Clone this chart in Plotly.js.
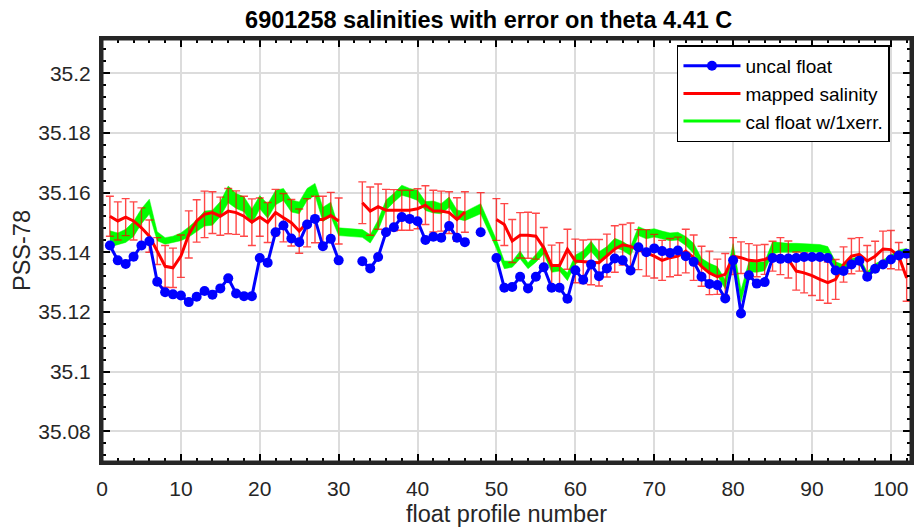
<!DOCTYPE html>
<html>
<head>
<meta charset="utf-8">
<script src="https://cdn.plot.ly/plotly-3.0.1.min.js"></script>
<style>html,body{margin:0;padding:0;background:#fff;}#chart{width:914px;height:531px;}</style>
</head>
<body>
<div id="chart"></div>
<script>
// profile numbers
const profile = [1,2,3,4,5,6,7,8,9,10,11,12,13,14,15,16,17,18,19,20,
  21,22,23,24,25,26,27,28,29,30,31,32,33,34,35,36,37,38,39,40,
  41,42,43,44,45,46,47,48,49,50,51,52,53,54,55,56,57,58,59,60,
  61,62,63,64,65,66,67,68,69,70,71,72,73,74,75,76,77,78,79,80,
  81,82,83,84,85,86,87,88,89,90,91,92,93,94,95,96,97,98,99,100,101,102];

// uncalibrated float salinity
const uncalFloat = [35.1423,35.1373,35.1361,35.1385,35.1423,35.1437,35.1301,35.1266,35.1259,35.1255,
  35.1233,35.1251,35.1270,35.1258,35.1279,35.1313,35.1262,35.1253,35.1253,35.1381,
  35.1365,35.1467,35.1490,35.1446,35.1434,35.1493,35.1512,35.1420,35.1445,35.1373,
  null,null,35.1370,35.1346,35.1384,35.1467,35.1484,35.1518,35.1512,35.1504,
  35.1441,35.1452,35.1449,35.1488,35.1449,35.1434,null,35.1467,null,35.1381,
  35.1281,35.1284,35.1318,35.1279,35.1318,35.1350,35.1281,35.1281,35.1244,35.1340,
  35.1308,35.1359,35.1320,35.1346,35.1379,35.1373,35.1339,35.1417,35.1400,35.1413,
  35.1404,35.1398,35.1406,35.1387,35.1368,35.1318,35.1294,35.1290,35.1245,35.1373,
  35.1195,35.1323,35.1295,35.1300,35.1381,35.1378,35.1379,35.1381,35.1384,35.1384,
  35.1384,35.1381,35.1339,35.1337,35.1359,35.1372,35.1318,35.1345,35.1359,35.1376,
  35.1389,35.1395];

// mapped salinity
const mappedSal = [35.1521,35.1505,35.1518,35.1505,35.1482,35.1454,35.1404,35.1353,35.1348,35.1387,
  35.1460,35.1505,35.1527,35.1533,35.1521,35.1538,35.1533,35.1521,35.1501,35.1518,
  35.1500,35.1533,35.1516,35.1499,35.1471,35.1499,35.1510,35.1510,35.1523,35.1505,
  null,null,35.1566,35.1538,35.1553,35.1541,35.1541,35.1541,35.1541,35.1546,
  35.1558,35.1538,35.1538,35.1533,35.1510,35.1535,null,35.1535,null,35.1510,
  35.1493,35.1438,35.1457,35.1457,35.1454,35.1415,35.1356,35.1356,35.1410,35.1371,
  35.1368,35.1367,35.1365,35.1389,35.1411,35.1425,35.1420,35.1409,35.1398,35.1387,
  35.1373,35.1382,35.1387,35.1404,35.1382,35.1353,35.1331,35.1318,35.1326,35.1387,
  35.1382,35.1373,35.1371,35.1376,35.1387,35.1387,35.1376,35.1337,35.1331,35.1322,
  35.1309,35.1298,35.1309,35.1359,35.1387,35.1393,35.1371,35.1387,35.1411,35.1409,
  35.1387,35.1314];

// mapped salinity error
const mappedErr = [0.0067,0.0064,0.0062,0.0064,0.0067,0.0054,0.0045,0.0070,0.0066,0.0071,
  0.0079,0.0071,0.0078,0.0070,0.0064,0.0076,0.0073,0.0067,0.0078,0.0064,
  0.0067,0.0078,0.0081,0.0078,0.0074,0.0081,0.0078,0.0078,0.0078,0.0077,
  null,null,0.0070,0.0081,0.0076,0.0070,0.0069,0.0067,0.0067,0.0067,
  0.0065,0.0070,0.0067,0.0070,0.0073,0.0068,null,0.0065,null,0.0070,
  0.0070,0.0072,0.0076,0.0077,0.0077,0.0068,0.0068,0.0076,0.0067,0.0073,
  0.0073,0.0076,0.0078,0.0072,0.0078,0.0068,0.0078,0.0067,0.0078,0.0073,
  0.0067,0.0064,0.0064,0.0073,0.0076,0.0067,0.0073,0.0059,0.0070,0.0062,
  0.0053,0.0056,0.0053,0.0050,0.0050,0.0062,0.0062,0.0064,0.0067,0.0067,
  0.0070,0.0069,0.0067,0.0059,0.0059,0.0056,0.0052,0.0050,0.0060,0.0064,
  0.0046,0.0078];

// calibrated float salinity
const calFloat = [35.1445,35.1445,35.1455,35.1478,35.1521,35.1553,35.1454,35.1438,35.1443,35.1452,
  35.1468,35.1488,35.1513,35.1516,35.1545,35.1594,35.1572,35.1561,35.1520,35.1568,
  35.1538,35.1583,35.1594,35.1555,35.1549,35.1594,35.1611,35.1527,35.1544,35.1469,
  null,null,35.1463,35.1445,35.1491,35.1558,35.1583,35.1608,35.1599,35.1591,
  35.1555,35.1552,35.1546,35.1568,35.1527,35.1521,null,35.1546,null,35.1427,
  35.1358,35.1360,35.1391,35.1355,35.1380,35.1410,35.1346,35.1346,35.1318,35.1376,
  35.1390,35.1420,35.1387,35.1404,35.1432,35.1421,35.1404,35.1471,35.1460,35.1465,
  35.1458,35.1452,35.1454,35.1438,35.1413,35.1365,35.1348,35.1337,35.1292,35.1409,
  35.1254,35.1351,35.1350,35.1353,35.1415,35.1416,35.1415,35.1416,35.1415,35.1414,
  35.1413,35.1407,35.1356,35.1346,35.1367,35.1373,35.1323,35.1350,35.1362,35.1379,
  35.1396,35.1401];

// calibrated float error
const calErr = [0.0027,0.0020,0.0022,0.0025,0.0025,0.0025,0.0015,0.0011,0.0011,0.0013,
  0.0017,0.0020,0.0025,0.0025,0.0025,0.0028,0.0025,0.0025,0.0025,0.0022,
  0.0024,0.0024,0.0020,0.0020,0.0020,0.0020,0.0020,0.0024,0.0024,0.0013,
  null,null,0.0013,0.0014,0.0017,0.0017,0.0015,0.0017,0.0015,0.0017,
  0.0015,0.0020,0.0017,0.0017,0.0015,0.0015,null,0.0017,null,0.0015,
  0.0013,0.0010,0.0013,0.0010,0.0013,0.0015,0.0013,0.0009,0.0013,0.0015,
  0.0015,0.0017,0.0015,0.0015,0.0015,0.0015,0.0015,0.0015,0.0015,0.0014,
  0.0013,0.0013,0.0013,0.0015,0.0017,0.0015,0.0015,0.0015,0.0015,0.0020,
  0.0020,0.0017,0.0017,0.0015,0.0020,0.0016,0.0015,0.0014,0.0013,0.0013,
  0.0013,0.0012,0.0012,0.0012,0.0012,0.0012,0.0012,0.0012,0.0012,0.0012,
  0.0012,0.0012];

const yTicks = [35.08, 35.1, 35.12, 35.14, 35.16, 35.18, 35.2];
const yTickText = ['35.08', '35.1', '35.12', '35.14', '35.16', '35.18', '35.2'];
const xTicks = [0, 10, 20, 30, 40, 50, 60, 70, 80, 90, 100];

// build the band from the available calibrated points
const bandX = [], bandLo = [], bandHi = [];
profile.forEach((p, i) => {
  if (calFloat[i] !== null) {
    bandX.push(p);
    bandLo.push(calFloat[i] - calErr[i]);
    bandHi.push(calFloat[i] + calErr[i]);
  }
});

const GREEN = '#00ff00', RED = '#ff0000', BLUE = '#0000ff';

const traces = [
  {x: [null], y: [null], mode: 'lines+markers', name: 'uncal float', line: {color: BLUE, width: 3}, marker: {color: BLUE, size: 10}},
  {x: [null], y: [null], mode: 'lines', name: 'mapped salinity', line: {color: RED, width: 3}},
  {x: [null], y: [null], mode: 'lines', name: 'cal float w/1xerr.', line: {color: GREEN, width: 3}},
  {x: bandX, y: bandLo, mode: 'lines', line: {color: GREEN, width: 0.5}, showlegend: false, hoverinfo: 'skip'},
  {x: bandX, y: bandHi, mode: 'lines', line: {color: GREEN, width: 0.5}, fill: 'tonexty', fillcolor: GREEN, showlegend: false, hoverinfo: 'skip'},
  {x: profile, y: mappedSal, mode: 'lines', name: 'mapped salinity', showlegend: false,
   line: {color: RED, width: 3}, connectgaps: false,
   error_y: {type: 'data', array: mappedErr, visible: true, color: 'rgba(255,0,0,0.72)', thickness: 1.4, width: 4}},
  {x: profile, y: uncalFloat, mode: 'lines+markers', name: 'uncal float', showlegend: false,
   line: {color: BLUE, width: 3}, marker: {color: BLUE, size: 10}, connectgaps: false}
];

const AX = '#262626';
const layout = {
  width: 914, height: 531,
  margin: {l: 102, r: 3, t: 39, b: 69, pad: 0},
  paper_bgcolor: '#ffffff', plot_bgcolor: '#ffffff',
  font: {family: '"Liberation Sans", Arial, sans-serif', color: AX},
  title: {text: '<b>6901258 salinities with error on theta 4.41 C</b>',
    font: {size: 23.5, color: '#000000'}, xref: 'paper', x: 0.478, xanchor: 'center',
    yref: 'container', y: 0.962, yanchor: 'middle'},
  showlegend: true,
  legend: {x: 0.974, xanchor: 'right', y: 0.985, yanchor: 'top', traceorder: 'normal',
    bgcolor: '#ffffff', bordercolor: '#000000', borderwidth: 1.5,
    font: {size: 19, color: '#000000'}, itemwidth: 57, entrywidth: 214, entrywidthmode: 'pixels'},
  xaxis: {range: [0, 102.55], tickmode: 'array', tickvals: xTicks, ticks: 'inside', ticklen: 8, tickwidth: 2, tickcolor: '#000000',
    showline: true, linewidth: 3, linecolor: AX, mirror: 'allticks', layer: 'above traces',
    showgrid: true, gridcolor: '#dcdcdc', gridwidth: 2, zeroline: false,
    minor: {dtick: 2, tick0: 0, ticks: 'inside', ticklen: 4, tickwidth: 2, tickcolor: '#000000', showgrid: false},
    tickfont: {size: 21, color: AX}, ticklabelstandoff: 6,
    title: {text: 'float profile number', font: {size: 23.5, color: AX}, standoff: 7}},
  yaxis: {range: [35.0697, 35.2115], tickmode: 'array', tickvals: yTicks, ticktext: yTickText, ticks: 'inside', ticklen: 8, tickwidth: 2, tickcolor: '#000000',
    showline: true, linewidth: 3, linecolor: AX, mirror: 'allticks', layer: 'above traces',
    showgrid: true, gridcolor: '#dcdcdc', gridwidth: 2, zeroline: false,
    minor: {dtick: 0.004, tick0: 35.08, ticks: 'inside', ticklen: 4, tickwidth: 2, tickcolor: '#000000', showgrid: false},
    tickfont: {size: 21, color: AX}, ticklabelstandoff: 4,
    title: {text: 'PSS-78', font: {size: 23.5, color: AX}, standoff: 2}},
  shapes: [{type: 'rect', xref: 'paper', yref: 'paper', x0: 0, x1: 1, y0: 0, y1: 1,
    line: {color: AX, width: 3}, fillcolor: 'rgba(0,0,0,0)', layer: 'above'}]
};

Plotly.newPlot('chart', traces, layout, {displayModeBar: false, staticPlot: true});
</script>
</body>
</html>
